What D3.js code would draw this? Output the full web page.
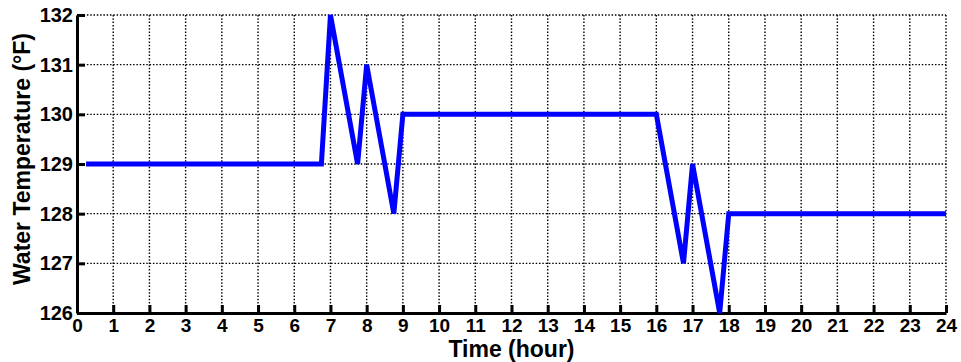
<!DOCTYPE html>
<html><head><meta charset="utf-8">
<script src="https://cdn.jsdelivr.net/npm/d3@7"></script>
<style>body{margin:0;background:#fff;}svg{display:block;}</style>
</head><body><svg id="c" width="961" height="362"></svg>
<script>
const hours = [0.25, 6.75, 7, 7.75, 8, 8.75, 9, 16, 16.75, 17, 17.75, 18, 24];
const temps = [129, 129, 132, 129, 131, 128, 130, 130, 127, 129, 126, 128, 128];
const xTicks = d3.range(0, 25, 1);
const yTicks = [126, 127, 128, 129, 130, 131, 132];
const xTitle = "Time (hour)";
const yTitle = "Water Temperature (°F)";

const svg = d3.select("#c");
const m = {l: 77, r: 946, t: 15, b: 313};
const x = d3.scaleLinear().domain([0, 24]).range([m.l, m.r]);
const y = d3.scaleLinear().domain([126, 132]).range([m.b, m.t]);
const font = "'Liberation Sans', Arial, sans-serif";

// grid
const g = svg.append("g");
g.selectAll("line.vx").data(xTicks.filter(d => d > 0)).join("line")
  .attr("x1", d => x(d)).attr("x2", d => x(d)).attr("y1", m.t).attr("y2", m.b)
  .attr("stroke", "#000").attr("stroke-width", 1.4).attr("stroke-dasharray", "1.5,1.8");
g.selectAll("line.hy").data(yTicks.filter(d => d > 126)).join("line")
  .attr("y1", d => y(d)).attr("y2", d => y(d)).attr("x1", m.l).attr("x2", m.r)
  .attr("stroke", "#000").attr("stroke-width", 1.4).attr("stroke-dasharray", "1.5,1.8");

// axes
const xa = svg.append("g").attr("transform", `translate(0,${m.b})`)
  .call(d3.axisBottom(x).tickValues(xTicks).tickSizeInner(-8).tickSizeOuter(0).tickFormat(d3.format("d")));
const ya = svg.append("g").attr("transform", `translate(${m.l},0)`)
  .call(d3.axisLeft(y).tickValues(yTicks).tickSizeInner(-8).tickSizeOuter(0).tickPadding(4).tickFormat(d3.format("d")));
[xa, ya].forEach(a => {
  a.select(".domain").attr("stroke", "#000").attr("stroke-width", 3);
  a.selectAll(".tick line").attr("stroke", "#000").attr("stroke-width", 3);
  a.selectAll("text").attr("font-family", font).attr("font-weight", "bold")
    .attr("font-size", 20).attr("fill", "#000");
});
xa.selectAll("text").attr("y", 19).attr("dy", 0).attr("font-size", 19);

// line
svg.append("path").datum(hours.map((h, i) => [h, temps[i]]))
  .attr("d", d3.line().x(d => x(d[0])).y(d => y(d[1])))
  .attr("fill", "none").attr("stroke", "#0000ff").attr("stroke-width", 5)
  .attr("stroke-linejoin", "miter").attr("stroke-miterlimit", 2);

// titles
svg.append("text").attr("x", (m.l + m.r) / 2).attr("y", 357).attr("text-anchor", "middle")
  .attr("font-family", font).attr("font-weight", "bold").attr("font-size", 23).text(xTitle);
svg.append("text").attr("transform", `translate(30,159) rotate(-90)`)
  .attr("text-anchor", "middle")
  .attr("font-family", font).attr("font-weight", "bold").attr("font-size", 23).text(yTitle);
</script></body></html>
